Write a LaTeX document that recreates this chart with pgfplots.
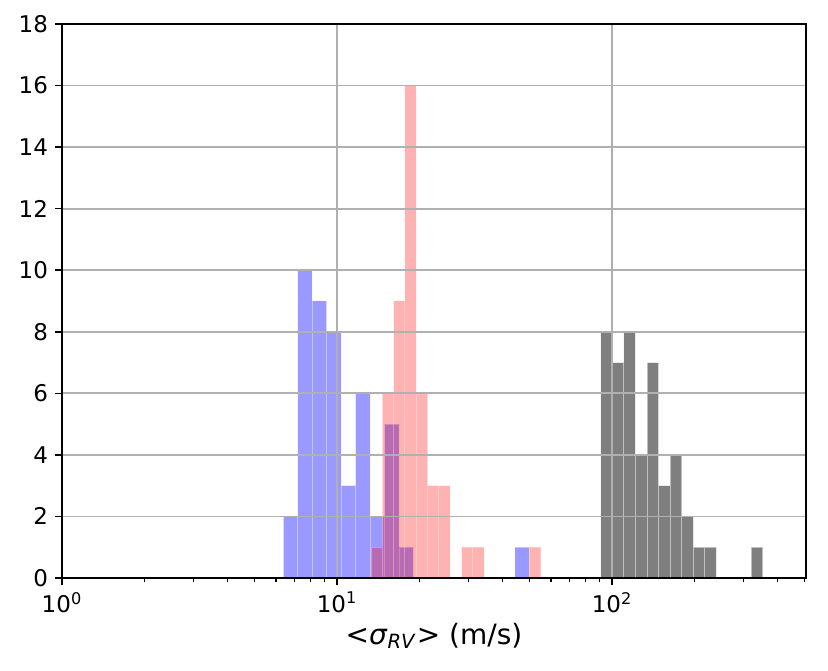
\documentclass[border=0pt]{standalone}
\usepackage{fontspec}
\setmainfont{DejaVu Sans}
\usepackage{pgfplots}
\pgfplotsset{compat=1.18}
\begin{document}
\begin{tikzpicture}
\begin{axis}[
  scale only axis,
  width=372pt, height=277pt,
  xmode=log,
  xmin=1, xmax=507,
  ymin=0, ymax=18,
  axis on top,
  xtick={1,10,100},
  xticklabels={10\textsuperscript{0},10\textsuperscript{1},10\textsuperscript{2}},
  minor xtick={2,3,4,5,6,7,8,9,20,30,40,50,60,70,80,90,200,300,400,500},
  ytick={0,2,...,18},
  /pgf/number format/assume math mode=true,
  tick pos=left,
  tick align=outside,
  major tick length=3.5pt,
  minor tick length=2pt,
  tick style={black, line width=0.8pt},
  minor tick style={black, line width=0.6pt},
  grid=major,
  major grid style={draw=black!31, line width=0.9pt},
  axis line style={line width=0.9pt},
  tick label style={font=\fontsize{11.5}{13}\selectfont},
  xlabel={<\textit{σ}\textsubscript{\textit{RV}}> (m/s)},
  xlabel style={font=\fontsize{14}{16}\selectfont, yshift=2pt},
  log basis x=10,
]
% blue
\addplot[ybar interval, fill=blue, draw=white, opacity=0.4, line width=0.5pt] coordinates {
 (6.378,2) (7.200,10) (8.124,9) (9.171,8) (10.35,3) (11.68,6) (13.18,2) (14.88,5) (16.80,1) (18.96,0)};
\addplot[ybar interval, fill=blue, draw=white, opacity=0.4, line width=0.5pt] coordinates {
 (44.21,1) (49.89,0)};
% red
\addplot[ybar interval, fill=red, draw=white, opacity=0.3, line width=0.5pt] coordinates {
 (13.29,1) (14.61,6) (16.07,9) (17.66,16) (19.41,6) (21.34,3) (23.46,3) (25.79,0)};
\addplot[ybar interval, fill=red, draw=white, opacity=0.3, line width=0.5pt] coordinates {
 (28.35,1) (31.16,1) (34.25,0)};
\addplot[ybar interval, fill=red, draw=white, opacity=0.3, line width=0.5pt] coordinates {
 (50.00,1) (54.97,0)};
% black
\addplot[ybar interval, fill=black, draw=white, opacity=0.5, line width=0.5pt] coordinates {
 (90.97,8) (100.2,7) (110.4,8) (121.6,4) (134.0,7) (147.6,3) (162.7,4) (179.2,2) (197.4,1) (217.5,1) (239.5,0)};
\addplot[ybar interval, fill=black, draw=white, opacity=0.5, line width=0.5pt] coordinates {
 (320.3,1) (352.8,0)};
\end{axis}
\path ([xshift=-31pt,yshift=-46.5pt]current axis.south west) rectangle ([xshift=11pt,yshift=12pt]current axis.north east);
\end{tikzpicture}
\end{document}
